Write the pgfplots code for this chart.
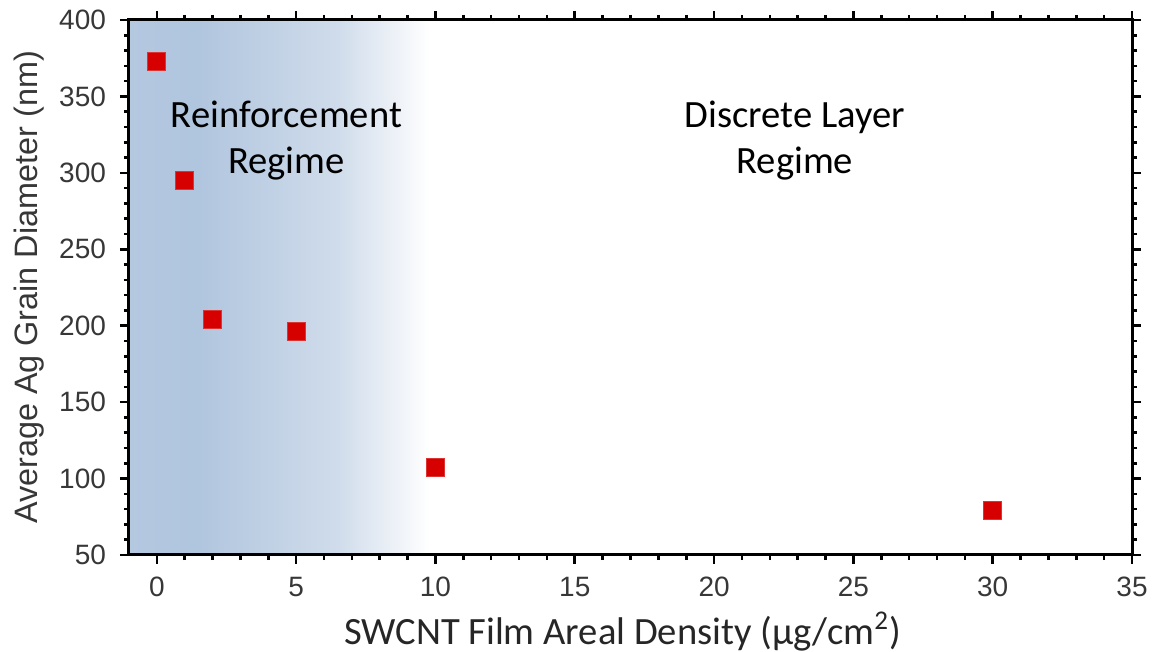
\documentclass[border=0pt]{standalone}
\usepackage{pgfplots}
\pgfplotsset{compat=1.18}
\usepackage{fontspec}
\setmainfont{Liberation Sans}
\newfontfamily\calibri{Carlito}
\definecolor{markred}{RGB}{214,0,0}
\definecolor{shadeA}{RGB}{180,200,224}
\definecolor{shadeB}{RGB}{176,197,222}
\definecolor{shadeC}{RGB}{208,220,235}
\definecolor{tickgray}{RGB}{55,55,55}
\begin{document}
\begin{tikzpicture}
\begin{axis}[
  scale only axis, width=501.5pt, height=267.5pt,
  xmin=-1, xmax=35, ymin=50, ymax=400,
  xtick={0,5,...,35}, ytick={50,100,...,400},
  minor x tick num=4, minor y tick num=4,
  tick align=outside,
  major tick length=4.5pt, minor tick length=2.6pt,
  axis line style={line width=1.5pt},
  tick style={black, line width=1.3pt},
  tick label style={font=\fontsize{14}{16}\selectfont, text=tickgray},
  xticklabel shift=3pt, yticklabel shift=3.5pt,
  /pgf/number format/assume math mode=true,
  xlabel={SWCNT Film Areal Density (µg/cm\textsuperscript{2})},
  xlabel style={font=\calibri\fontsize{19.3}{22}\selectfont, text=black!85,
    at={(axis description cs:0.5,0)}, anchor=center, yshift=-38.5pt, xshift=-4pt},
  ylabel={Average Ag Grain Diameter (nm)},
  ylabel style={font=\fontsize{16.2}{18}\selectfont, text=tickgray,
    at={(axis description cs:0,0.5)}, anchor=center, yshift=50pt},
  axis on top,
  clip=false,
]
\fill[left color=shadeA, right color=shadeB, draw=none] (axis cs:-1,50) rectangle (axis cs:1.42,400);
\fill[left color=shadeB, right color=shadeC, draw=none] (axis cs:1.4,50) rectangle (axis cs:6.52,400);
\fill[left color=shadeC, right color=white, draw=none] (axis cs:6.5,50) rectangle (axis cs:9.8,400);
\addplot[only marks, mark=square*, mark size=4.5pt, mark options={fill=markred, draw=markred!80!white, line width=0.4pt}]
  coordinates {(0,373) (1,295) (2,204) (5,196) (10,107) (30,79)};
\node[align=center, font=\calibri\fontsize{19.3}{23}\selectfont] at (axis cs:4.65,321) {Reinforcement\\Regime};
\node[align=center, font=\calibri\fontsize{19.3}{23}\selectfont] at (axis cs:22.9,321) {Discrete Layer\\Regime};
\end{axis}
\pgfresetboundingbox
\path[use as bounding box] (-64.5pt,-48.5pt) rectangle (516.5pt,277.5pt);
\end{tikzpicture}
\end{document}
